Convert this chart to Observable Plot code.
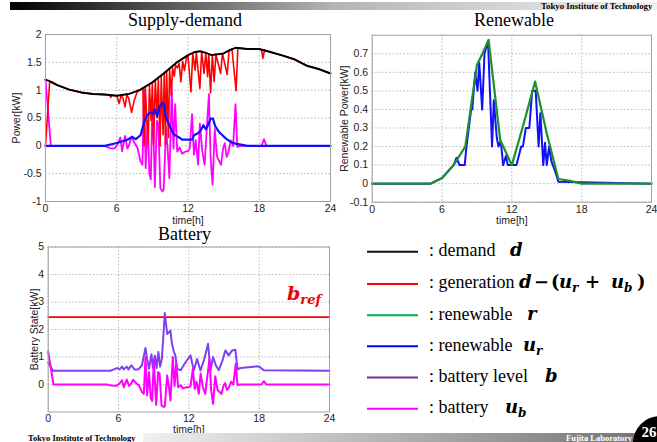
<!DOCTYPE html>
<html><head><meta charset="utf-8">
<script src="https://cdn.jsdelivr.net/npm/d3@7"></script>
<script src="https://cdn.jsdelivr.net/npm/@observablehq/plot@0.6"></script>
<style>
html,body{margin:0;padding:0;background:#fff;}
#page{position:relative;width:657px;height:442px;overflow:hidden;background:#fff;}
#deco{position:absolute;left:0;top:0;}
</style></head><body><div id="page"></div>
<script>
// ---------- data: [time h, value] ----------
const timeTicks = [0, 6, 12, 18, 24];
const powerTicks = [-1, -0.5, 0, 0.5, 1, 1.5, 2];
const renewTicks = [-0.1, 0, 0.1, 0.2, 0.3, 0.4, 0.5, 0.6, 0.7];
const batteryTicks = [0, 1, 2, 3, 4, 5];
const bRef = 2.45;

const demand = [[0,1.19],[0.5,1.15],[1,1.09],[2,1.01],[3,0.96],[4,0.93],[5,0.92],[6,0.90],[7,0.93],[8,1.01],[9,1.14],[10,1.31],[11,1.49],[12,1.63],[12.5,1.68],[13,1.70],[13.5,1.67],[14,1.63],[15,1.66],[15.5,1.72],[16,1.76],[17,1.74],[18,1.74],[19,1.68],[20,1.62],[21,1.55],[22,1.44],[23,1.38],[24,1.30]];

const generation = [[0,0],[0.35,1.15],[1,1.09],[2,1.01],[3,0.96],[4,0.93],[5,0.92],[5.4,0.91],[5.5,0.87],[5.6,0.91],[6.0,0.90],[6.2,0.76],[6.35,0.89],[6.5,0.87],[6.7,0.70],[6.85,0.91],[7.0,0.86],[7.25,0.60],[7.45,0.80],[7.7,0.96],[8.0,1.01],[8.2,1.04],[8.3,0.0],[8.4,1.06],[8.55,0.4],[8.65,0.03],[8.75,1.09],[8.9,0.45],[9.0,1.14],[9.1,0.03],[9.25,1.17],[9.4,0.5],[9.5,1.2],[9.65,0.0],[9.75,1.25],[9.9,0.2],[10.0,1.3],[10.1,0.03],[10.2,1.33],[10.35,0.15],[10.45,1.37],[10.6,0.9],[10.7,1.4],[10.85,1.25],[10.95,1.45],[11.1,1.4],[11.25,1.48],[11.4,1.15],[11.55,1.52],[11.7,1.35],[11.85,1.56],[12.0,1.62],[12.25,0.97],[12.4,1.66],[12.6,1.36],[12.7,1.68],[13.0,1.03],[13.15,1.7],[13.35,1.3],[13.5,1.67],[13.65,1.24],[13.75,1.65],[13.9,0.95],[14.05,1.63],[14.2,1.15],[14.35,1.64],[14.75,1.3],[14.9,1.66],[15.3,1.28],[15.45,1.70],[15.7,1.74],[16.05,0.99],[16.2,1.76],[17,1.74],[18,1.74],[18.2,1.72],[18.3,1.57],[18.45,1.72],[19,1.68],[20,1.62],[21,1.55],[22,1.44],[23,1.38],[24,1.30]];

const renewableUsedSD = [[0,0],[5,0],[6,0.05],[6.9,0.11],[7.3,0.16],[7.6,0.12],[8,0.19],[8.3,0.42],[8.55,0.55],[8.85,0.6],[9.05,0.58],[9.2,0.66],[9.4,0.53],[9.6,0.7],[9.85,0.77],[10.0,0.74],[10.15,0.5],[10.35,0.41],[10.55,0.31],[10.75,0.22],[11,0.18],[11.25,0.15],[11.5,0.11],[12.35,0.11],[12.5,0.19],[12.8,0.22],[13.05,0.27],[13.3,0.37],[13.5,0.3],[13.7,0.38],[13.9,0.49],[14.1,0.49],[14.3,0.35],[14.6,0.25],[14.9,0.19],[15.2,0.13],[15.6,0.07],[16,0.04],[17,0],[24,0]];

const batteryUse = [[0,1.19],[0.45,0],[5.0,0],[5.4,-0.04],[5.8,-0.05],[6.05,0.02],[6.3,0.15],[6.45,-0.1],[6.7,0.18],[6.9,-0.05],[7.05,0.02],[7.25,0.17],[7.5,0.05],[7.75,-0.04],[8.0,-0.28],[8.16,-0.34],[8.3,1.0],[8.44,-0.4],[8.6,0.45],[8.75,-0.5],[8.87,-0.6],[9.01,0.87],[9.21,-0.74],[9.38,0.45],[9.5,0.4],[9.67,-0.76],[9.86,-0.82],[9.95,-0.78],[10.15,0.33],[10.3,-0.1],[10.43,-0.58],[10.63,1.0],[10.78,-0.05],[10.92,0.75],[11.09,-0.1],[11.3,-0.03],[11.5,-0.14],[11.8,-0.1],[12.0,-0.1],[12.15,-0.05],[12.34,0.57],[12.5,-0.16],[12.65,0.1],[12.85,-0.34],[13.0,0.4],[13.2,-0.1],[13.4,-0.34],[13.55,0.2],[13.76,0.93],[13.9,-0.2],[14.07,-0.7],[14.25,0.3],[14.45,-0.2],[14.78,-0.34],[14.95,-0.05],[15.1,0.05],[15.25,-0.2],[15.4,-0.12],[15.6,0.1],[15.8,0.0],[16.0,0.75],[16.15,-0.02],[16.4,0],[18.2,0],[18.4,0.12],[18.6,0],[24,0]];

const renewable = [[0,0],[5,0],[6,0.03],[7,0.1],[8,0.2],[9,0.64],[9.4,0.69],[10,0.775],[11,0.235],[12,0.1],[13,0.32],[14,0.55],[15,0.27],[16,0.025],[17,0.015],[18,0],[24,0]];

const renewableUsed = [[0,0],[5,0],[6,0.03],[7,0.1],[7.25,0.14],[7.5,0.1],[7.95,0.1],[8.1,0.2],[8.5,0.4],[8.6,0.4],[8.85,0.6],[9.05,0.5],[9.2,0.65],[9.45,0.4],[9.65,0.7],[9.95,0.77],[10.3,0.2],[10.45,0.45],[10.7,0.25],[10.85,0.2],[11.05,0.23],[11.25,0.1],[11.5,0.15],[11.65,0.1],[12.4,0.1],[12.8,0.2],[12.95,0.2],[13.2,0.3],[13.5,0.3],[13.75,0.5],[14.05,0.5],[14.3,0.2],[14.45,0.38],[14.7,0.1],[14.85,0.22],[15.0,0.1],[15.2,0.2],[15.4,0.12],[15.7,0.07],[16,0.01],[24,0]];

const batteryLevel = [[0,0.8],[0.4,0.5],[5.3,0.5],[5.6,0.55],[5.9,0.6],[6.1,0.55],[6.3,0.65],[6.45,0.55],[6.7,0.65],[6.85,0.55],[7.1,0.7],[7.35,0.55],[7.7,0.55],[8.0,0.7],[8.3,1.33],[8.45,0.9],[8.6,0.57],[8.81,1.1],[8.93,0.6],[9.1,1.05],[9.25,0.6],[9.4,1.18],[9.55,0.65],[9.7,0.95],[9.95,2.6],[10.15,1.84],[10.3,1.9],[10.43,1.96],[10.55,1.5],[10.72,1.2],[10.85,1.05],[11.0,0.57],[11.3,0.52],[11.7,0.8],[12.14,1.06],[12.42,0.51],[12.7,0.93],[12.99,0.51],[13.3,0.9],[13.64,1.48],[13.84,0.51],[14.07,1.0],[14.3,0.7],[14.55,0.52],[14.85,0.85],[15.12,1.24],[15.4,1.06],[15.69,1.24],[15.97,1.26],[16.15,0.55],[16.4,0.6],[17.8,0.66],[18.0,0.65],[18.4,0.52],[24,0.5]];

// ---------- drawing ----------
const page = document.getElementById("page");
const FONT = "'Liberation Sans', Arial, Helvetica, sans-serif";
const X = d => d[0], Y = d => d[1];

function chart({left, top, width, height, mL, mR, mT, mB, yDomain, yTicks, yLabel, yLabelOffset, xLabelOffset, marks}) {
  const svg = Plot.plot({
    width, height, marginLeft: mL, marginRight: mR, marginTop: mT, marginBottom: mB,
    style: {background: "transparent", fontFamily: FONT, fontSize: "10.5px", color: "#222", overflow: "visible"},
    x: {domain: [0, 24]},
    y: {domain: yDomain},
    marks: [
      Plot.gridX(timeTicks, {stroke: "#b5b5b5", strokeOpacity: 1, strokeDasharray: "1.5,2"}),
      Plot.gridY(yTicks, {stroke: "#b5b5b5", strokeOpacity: 1, strokeDasharray: "1.5,2"}),
      ...marks,
      Plot.frame({stroke: "#a0a0a0"}),
      Plot.axisX(timeTicks, {tickSize: 0, tickPadding: 3, tickFormat: d => String(d), label: "time[h]", labelAnchor: "center", labelOffset: xLabelOffset, labelArrow: "none"}),
      Plot.axisY(yTicks, {tickSize: 0, tickPadding: 4, tickFormat: d => String(d), label: yLabel, labelAnchor: "center", labelOffset: yLabelOffset, labelArrow: "none"})
    ]
  });
  svg.style.position = "absolute";
  svg.style.left = left + "px";
  svg.style.top = top + "px";
  page.appendChild(svg);
}

chart({left: 0, top: 0, width: 340, height: 226, mL: 45, mR: 10, mT: 34, mB: 25,
  yDomain: [-1, 2], yTicks: powerTicks, yLabel: "Power[kW]", yLabelOffset: 33, xLabelOffset: 22,
  marks: [
    Plot.line(batteryUse, {x: X, y: Y, stroke: "#ff00ff", strokeWidth: 1.8}),
    Plot.line(generation, {x: X, y: Y, stroke: "#ff0000", strokeWidth: 1.6}),
    Plot.line(renewableUsedSD, {x: X, y: Y, stroke: "#1010ff", strokeWidth: 2.2}),
    Plot.line(demand, {x: X, y: Y, stroke: "#000", strokeWidth: 2})
  ]});

chart({left: 330, top: 0, width: 327, height: 226, mL: 41.7, mR: 6, mT: 34.7, mB: 24.3,
  yDomain: [-0.1, 0.8], yTicks: renewTicks, yLabel: "Renewable Power[kW]", yLabelOffset: 32, xLabelOffset: 22,
  marks: [
    Plot.line(renewableUsed, {x: X, y: Y, stroke: "#1010ff", strokeWidth: 2}),
    Plot.line(renewable, {x: X, y: Y, stroke: "#1e8f2a", strokeWidth: 2.2})
  ]});

chart({left: 0, top: 0, width: 340, height: 436, mL: 47.7, mR: 11, mT: 246.5, mB: 24.5,
  yDomain: [-1, 5], yTicks: batteryTicks, yLabel: "Battery State[kW]", yLabelOffset: 18, xLabelOffset: 21,
  marks: [
    Plot.ruleY([bRef], {stroke: "#ff0000", strokeWidth: 1.8}),
    Plot.line(batteryLevel, {x: X, y: Y, stroke: "#8040f0", strokeWidth: 2}),
    Plot.line(batteryUse, {x: X, y: Y, stroke: "#ff00ff", strokeWidth: 2})
  ]});

// ---------- slide decoration, titles and legend ----------
const legendItems = [
  {color: "#111111", label: ": demand"},
  {color: "#ff0000", label: ": generation"},
  {color: "#00b050", label: ": renewable"},
  {color: "#0000ff", label: ": renewable"},
  {color: "#7030a0", label: ": battery level"},
  {color: "#ff00ff", label: ": battery"}
];
const legendY = [251.7, 284, 315.3, 346.3, 377.5, 408.7];

const NS = "http://www.w3.org/2000/svg";
const deco = document.createElementNS(NS, "svg");
deco.setAttribute("id", "deco");
deco.setAttribute("width", 657);
deco.setAttribute("height", 442);
const MATH = "font-family:'DejaVu Serif',serif;font-weight:bold;font-style:italic;";
let html = `
<defs>
  <linearGradient id="gTop" x1="0" x2="1" y1="0" y2="0">
    <stop offset="0" stop-color="#000"/><stop offset="0.5" stop-color="#b4b4b4"/><stop offset="1" stop-color="#f2f2f2"/>
  </linearGradient>
  <linearGradient id="gBot" x1="0" x2="1" y1="0" y2="0">
    <stop offset="0" stop-color="#f0f0f0"/><stop offset="1" stop-color="#707070"/>
  </linearGradient>
</defs>
<rect x="10" y="2" width="647" height="8" fill="url(#gTop)"/>
<text x="541" y="8.5" style="font-family:'Liberation Serif',serif;font-weight:bold;font-size:8.8px;fill:#000">Tokyo Institute of Technology</text>
<rect x="143" y="433" width="514" height="9" fill="url(#gBot)"/>
<text x="28" y="441" style="font-family:'Liberation Serif',serif;font-weight:bold;font-size:8.5px;fill:#000">Tokyo Institute of Technology</text>
<text x="566" y="441" style="font-family:'Liberation Serif',serif;font-weight:bold;font-size:8.5px;fill:#fff">Fujita Laboratory</text>
<circle cx="660" cy="443" r="27" fill="#000"/>
<text x="649" y="437" text-anchor="middle" style="font-family:'Liberation Serif',serif;font-weight:bold;font-size:15px;fill:#fff">26</text>
<g style="font-family:'Liberation Serif','Times New Roman',serif;font-size:18px;fill:#000" text-anchor="middle">
  <text x="185" y="26">Supply-demand</text>
  <text x="514" y="26">Renewable</text>
  <text x="184.5" y="240">Battery</text>
</g>
<text x="287" y="300" style="${MATH}font-size:19px;fill:#ee0000">b<tspan style="font-size:13px" dy="4">ref</tspan></text>
`;
legendItems.forEach((it, i) => {
  const y = legendY[i];
  html += `<line x1="367" x2="418" y1="${y}" y2="${y}" stroke="${it.color}" stroke-width="2"/>`;
  html += `<text x="429" y="${y + 4.3}" style="font-family:'Liberation Serif','Times New Roman',serif;font-size:18px;fill:#000">${it.label}</text>`;
});
const my = i => legendY[i] + 4.3;
html += `
<g style="${MATH}font-size:18px;fill:#000">
  <text x="510" y="${my(0)}">d</text>
  <text y="${my(1)}"><tspan x="519">d</tspan><tspan x="534" style="font-style:normal">−</tspan><tspan x="551" style="font-style:normal">(</tspan><tspan x="559">u</tspan><tspan x="572" dy="4" style="font-size:12px">r</tspan><tspan x="585" dy="-4" style="font-style:normal">+</tspan><tspan x="611">u</tspan><tspan x="624" dy="4" style="font-size:12px">b</tspan><tspan x="637" dy="-4" style="font-style:normal">)</tspan></text>
  <text x="527" y="${my(2)}">r</text>
  <text y="${my(3)}"><tspan x="523">u</tspan><tspan x="536" dy="4" style="font-size:12px">r</tspan></text>
  <text x="545" y="${my(4)}">b</text>
  <text y="${my(5)}"><tspan x="505">u</tspan><tspan x="518" dy="4" style="font-size:12px">b</tspan></text>
</g>`;
deco.innerHTML = html;
page.appendChild(deco);
</script></body></html>
